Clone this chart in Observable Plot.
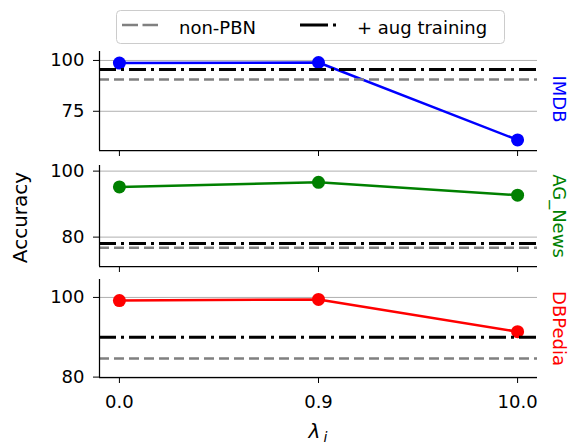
<!DOCTYPE html>
<html><head><meta charset="utf-8">
<script src="https://cdn.jsdelivr.net/npm/d3@7"></script>
<script src="https://cdn.jsdelivr.net/npm/@observablehq/plot@0.6"></script>
<style>
body{margin:0;background:#fff;}
#root{position:relative;width:569px;height:443px;overflow:hidden;font-family:"DejaVu Sans";background:#fff;}
</style></head><body><div id="root"></div>
<script>
const xLabels = ["0.0", "0.9", "10.0"];
const datasets = ["IMDB", "AG_News", "DBPedia"];
const colors = ["#0000ff", "#008000", "#ff0000"];
const imdbAcc = [98.7, 99.0, 60.9];
const agNewsAcc = [95.2, 96.6, 92.7];
const dbpediaAcc = [99.2, 99.5, 91.4];
const nonPBN = [90.6, 76.8, 84.7];
const augTraining = [95.5, 78.1, 90.0];
const yTicks = [[75, 100], [80, 100], [80, 100]];
const legendLabels = ["non-PBN", "+ aug training"];
const yLabel = "Accuracy";
const xLabelMain = "λ", xLabelSub = "i";

const accs = [imdbAcc, agNewsAcc, dbpediaAcc];
const domains = [[55.7, 104.4], [71.1, 101.7], [79.9, 104.5]];
const tops = [47, 161, 275];
const areas = [99, 101, 98];
const bottoms = [8, 8, 66];

const root = document.getElementById("root");

// legend
const leg = d3.select(root).append("svg").attr("width", 569).attr("height", 48)
  .style("position", "absolute").style("left", "0px").style("top", "0px");
leg.append("rect").attr("x", 116.5).attr("y", 10.5).attr("width", 388).attr("height", 33)
  .attr("rx", 4).attr("fill", "white").attr("stroke", "#cccccc").attr("stroke-width", 1);
leg.append("line").attr("x1", 122).attr("x2", 158).attr("y1", 25).attr("y2", 25)
  .attr("stroke", "#808080").attr("stroke-width", 2.5).attr("stroke-dasharray", "16,4.5");
leg.append("line").attr("x1", 300).attr("x2", 337).attr("y1", 25).attr("y2", 25)
  .attr("stroke", "black").attr("stroke-width", 3).attr("stroke-dasharray", "28,5,3,100");
leg.append("text").attr("x", 179).attr("y", 34).attr("font-size", 18).attr("font-family", "DejaVu Sans").text(legendLabels[0]);
leg.append("text").attr("x", 357).attr("y", 34).attr("font-size", 18).attr("font-family", "DejaVu Sans").text(legendLabels[1]);

for (let k = 0; k < 3; ++k) {
  const rows = xLabels.map((lab, i) => ({x: i, label: lab, acc: accs[k][i]}));
  const last = k === 2;
  const marks = [
    Plot.ruleY(yTicks[k], {stroke: "#b0b0b0", strokeWidth: 1}),
    Plot.line(rows, {x: "x", y: "acc", stroke: colors[k], strokeWidth: 2.5}),
    Plot.dot(rows, {x: "x", y: "acc", r: 6.5, fill: colors[k], stroke: "none"}),
    Plot.ruleY([nonPBN[k]], {stroke: "#808080", strokeWidth: 2.5, strokeDasharray: "10,5"}),
    Plot.ruleY([augTraining[k]], {stroke: "black", strokeWidth: 3, strokeDasharray: "17,5,3,5"}),
    Plot.ruleX([-0.1], {stroke: "black", strokeWidth: 1.25}),
    Plot.ruleY([domains[k][0]], {stroke: "black", strokeWidth: 1.25}),
    Plot.text([datasets[k]], {text: d => d, frameAnchor: "right", textAnchor: "middle", dx: 21, dy: k === 0 ? -2 : 0, rotate: 90, fill: colors[k], fontSize: 18})
  ];
  if (k === 1) marks.push(Plot.text([yLabel], {text: d => d, frameAnchor: "left", textAnchor: "middle", dx: -79, dy: 1.5, rotate: -90, fontSize: 20, fill: "black"}));
  if (last) {
    marks.push(Plot.text([xLabelMain], {text: d => d, frameAnchor: "bottom", textAnchor: "middle", dx: -4, dy: 60, fontSize: 20, fontStyle: "italic", fill: "black"}));
    marks.push(Plot.text([xLabelSub], {text: d => d, frameAnchor: "bottom", textAnchor: "middle", dx: 7, dy: 64, fontSize: 14, fontStyle: "italic", fill: "black"}));
  }
  const svg = Plot.plot({
    width: 569,
    height: 4 + areas[k] + bottoms[k],
    marginTop: 4, marginBottom: bottoms[k], marginLeft: 99, marginRight: 32,
    style: {fontFamily: "DejaVu Sans", fontSize: "18px", background: "transparent", overflow: "visible", color: "black"},
    x: {domain: [-0.1, 2.1], ticks: [0, 1, 2], tickFormat: i => last ? xLabels[i] : "", tickSize: 6, tickPadding: 12, label: null},
    y: {domain: domains[k], ticks: yTicks[k], tickSize: 6, tickPadding: 9, label: null},
    marks
  });
  svg.style.position = "absolute";
  svg.style.left = "0px";
  svg.style.top = tops[k] + "px";
  root.appendChild(svg);
}
</script></body></html>
